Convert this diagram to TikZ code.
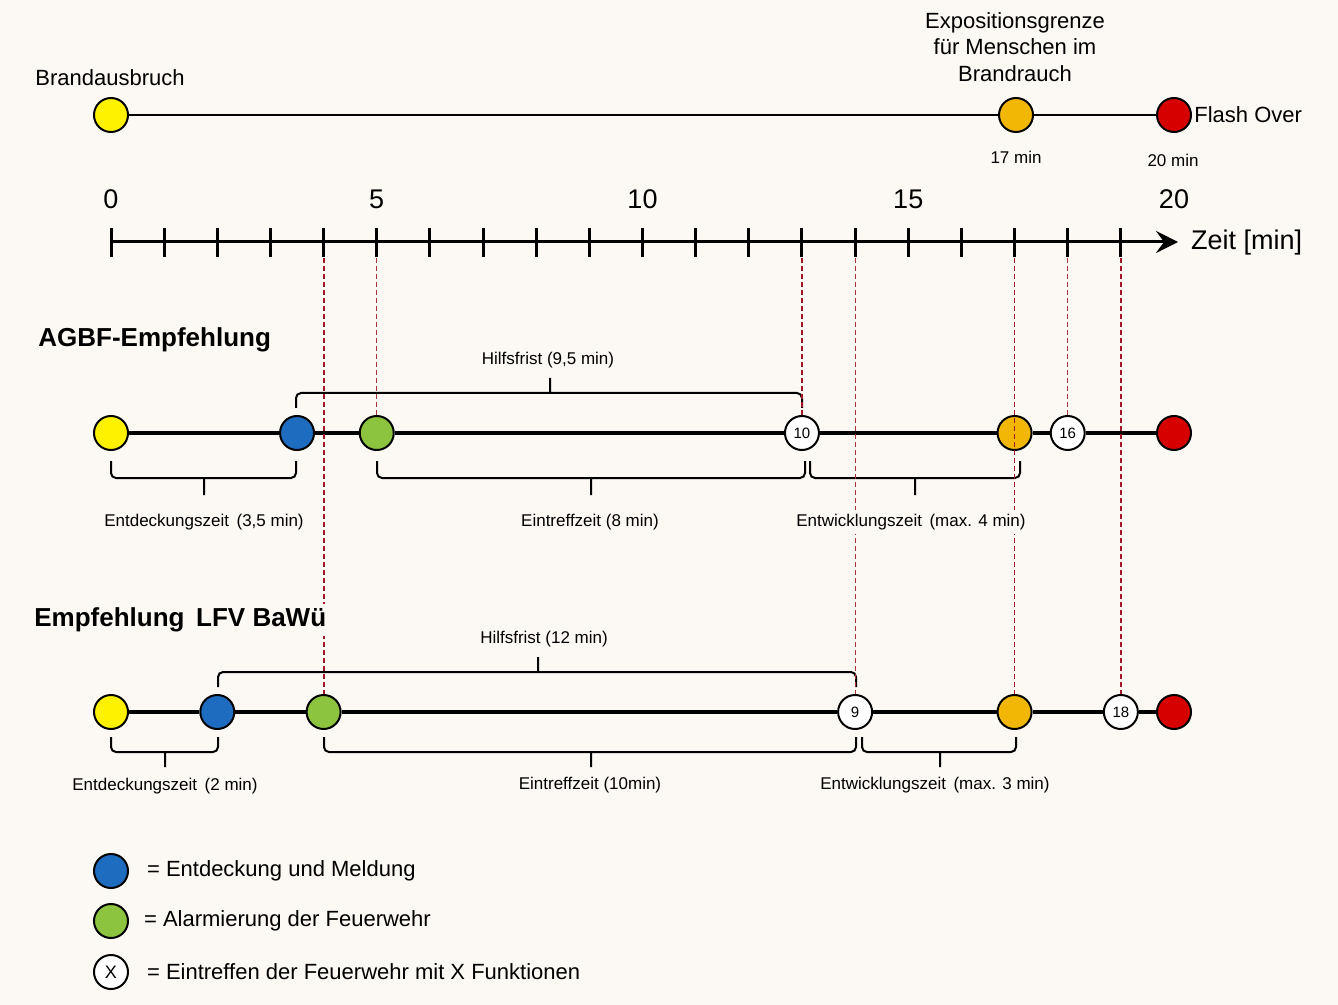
\documentclass[tikz,border=0pt]{standalone}
\usepackage{fontspec}
\setmainfont{Liberation Sans}
\usetikzlibrary{arrows.meta}
\definecolor{bg}{HTML}{FCF8F3}
\definecolor{fireyellow}{HTML}{FFF200}
\definecolor{meldeblue}{HTML}{1E6CC0}
\definecolor{alarmgreen}{HTML}{8CC43F}
\definecolor{exporange}{HTML}{F2B705}
\definecolor{flashred}{HTML}{D60000}
\definecolor{guide}{HTML}{A01828}
\begin{document}
\begin{tikzpicture}
  [x=0.5pt,y=-0.5pt,
   dot/.style={circle,draw=black,line width=1pt,minimum size=17pt,inner sep=0pt,
     font=\fontsize{7.5}{8}\selectfont},
   zeile/.style={line width=1.6pt},
   klammer/.style={line width=1pt,rounded corners=2.5pt},
   guideline/.style={guide,line width=0.9pt,dash pattern=on 2.5pt off 1.5pt},
   thinguide/.style={guideline,line width=0.6pt,guide!90},
   big/.style={font=\fontsize{11}{13}\selectfont},
   huge/.style={font=\fontsize{13.5}{15}\selectfont},
   tiny/.style={font=\fontsize{8.5}{10}\selectfont},
   spanlabel/.style={tiny,fill=bg,inner sep=2pt},
   title/.style={font=\fontsize{13}{15}\selectfont\bfseries,anchor=west,fill=bg,inner sep=2pt}]
  \fill[bg] (0,0) rectangle (1338,1005);

  % Brandverlauf
  \node[dot,fill=fireyellow] (b0) at (111,115) {};
  \node[dot,fill=exporange] (b17) at (1016,115) {};
  \node[dot,fill=flashred] (b20) at (1174,115) {};
  \draw[line width=1.4pt] (b0) -- (b17) -- (b20);
  \node[big] (brand) at (110,78) {Brandausbruch};
  \node[big,align=center,font=\fontsize{11}{13.2}\selectfont] (expo) at (1015,47)
    {Expositionsgrenze\\für Menschen im\\Brandrauch};
  \node[big,anchor=west,inner sep=1pt] (flash) at (b20.east) {Flash Over};
  \node[tiny] (m17) at (1016,157) {17 min};
  \node[tiny] (m20) at (1173,160) {20 min};

  % Zeitachse
  \coordinate (z0) at (111,242);
  \coordinate (zend) at (1178,242);
  \draw[line width=1.5pt,-{Stealth[length=11pt,width=11pt,inset=4pt]}] (z0) -- (zend);
  \foreach \t in {0,...,19}
    \draw[line width=1.5pt] ({111+53.15*\t},228) -- ++(0,29);
  \foreach \t in {0,5,10,15,20}
    \node[huge] (n\t) at ({111+53.15*\t},199) {\t};
  \node[huge,anchor=west] (zeit) at (1184,243) {Zeit [min]};

  % AGBF-Empfehlung
  \foreach \n/\t/\c/\l in {ag0/0/fireyellow/, ag35/3.5/meldeblue/, ag5/5/alarmgreen/,
      ag13/13/white/10, ag17/17/exporange/, ag18/18/white/16, ag20/20/flashred/}
    \node[dot,fill=\c] (\n) at ({111+53.15*\t},433) {\l};
  \draw[zeile] (ag0) -- (ag35) -- (ag5) -- (ag13) -- (ag17) -- (ag18) -- (ag20);

  % Empfehlung LFV BaWue
  \foreach \n/\t/\c/\l in {lf0/0/fireyellow/, lf2/2/meldeblue/, lf4/4/alarmgreen/,
      lf14/14/white/9, lf17/17/exporange/, lf19/19/white/18, lf20/20/flashred/}
    \node[dot,fill=\c] (\n) at ({111+53.15*\t},712) {\l};
  \draw[zeile] (lf0) -- (lf2) -- (lf4) -- (lf14) -- (lf17) -- (lf19) -- (lf20);

  % Klammern
  \foreach \xa/\xb/\xm/\yk/\h in {296/802/550/393/15, 218/856/538/672/15,
      111/296/204/478/-17, 377/805/591/478/-17, 810/1020/915/478/-17,
      111/218/165/752/-15, 324/856/591/752/-15, 862/1016/940/752/-15}
    \draw[klammer] (\xa,\yk+\h) -- (\xa,\yk) -- (\xb,\yk) -- (\xb,\yk+\h)
      (\xm,\yk) -- (\xm,\yk-\h);

  % Hilfslinien
  \foreach \n in {ag13,lf4,lf17,lf19}
    \draw[guideline] (\n |- 0,258) -- (\n.north);
  \foreach \n in {ag5,ag18,lf14}
    \draw[thinguide] (\n |- 0,258) -- (\n.north);

  \node[title] (agbf) at (34,340) {AGBF-Empfehlung};
  \node[title] (lfv) at (30,620) {Empfehlung\, LFV BaWü};
  \node[spanlabel] (hf1) at (548,360) {Hilfsfrist (9,5 min)};
  \node[spanlabel] (ez1) at (204,522) {Entdeckungszeit\, (3,5 min)};
  \node[spanlabel] (et1) at (590,522) {Eintreffzeit (8 min)};
  \node[spanlabel] (ew1) at (911,522) {Entwicklungszeit\, (max. 4 min)};
  \node[spanlabel] (hf2) at (544,639) {Hilfsfrist (12 min)};
  \node[spanlabel] (ez2) at (165,786) {Entdeckungszeit\, (2 min)};
  \node[spanlabel] (et2) at (590,785) {Eintreffzeit (10min)};
  \node[spanlabel] (ew2) at (935,785) {Entwicklungszeit\, (max. 3 min)};

  % Legende
  \node[dot,fill=meldeblue] (leg1) at (111,871) {};
  \node[dot,fill=alarmgreen] (leg2) at (111,921) {};
  \node[dot,fill=white,font=\fontsize{9}{10}\selectfont] (leg3) at (111,972) {X};
  \node[big,anchor=west] (txt1) at (140,871) {= Entdeckung und Meldung};
  \node[big,anchor=west] (txt2) at (137,921) {= Alarmierung der Feuerwehr};
  \node[big,anchor=west] (txt3) at (140,972) {= Eintreffen der Feuerwehr mit X Funktionen};
\end{tikzpicture}
\end{document}
